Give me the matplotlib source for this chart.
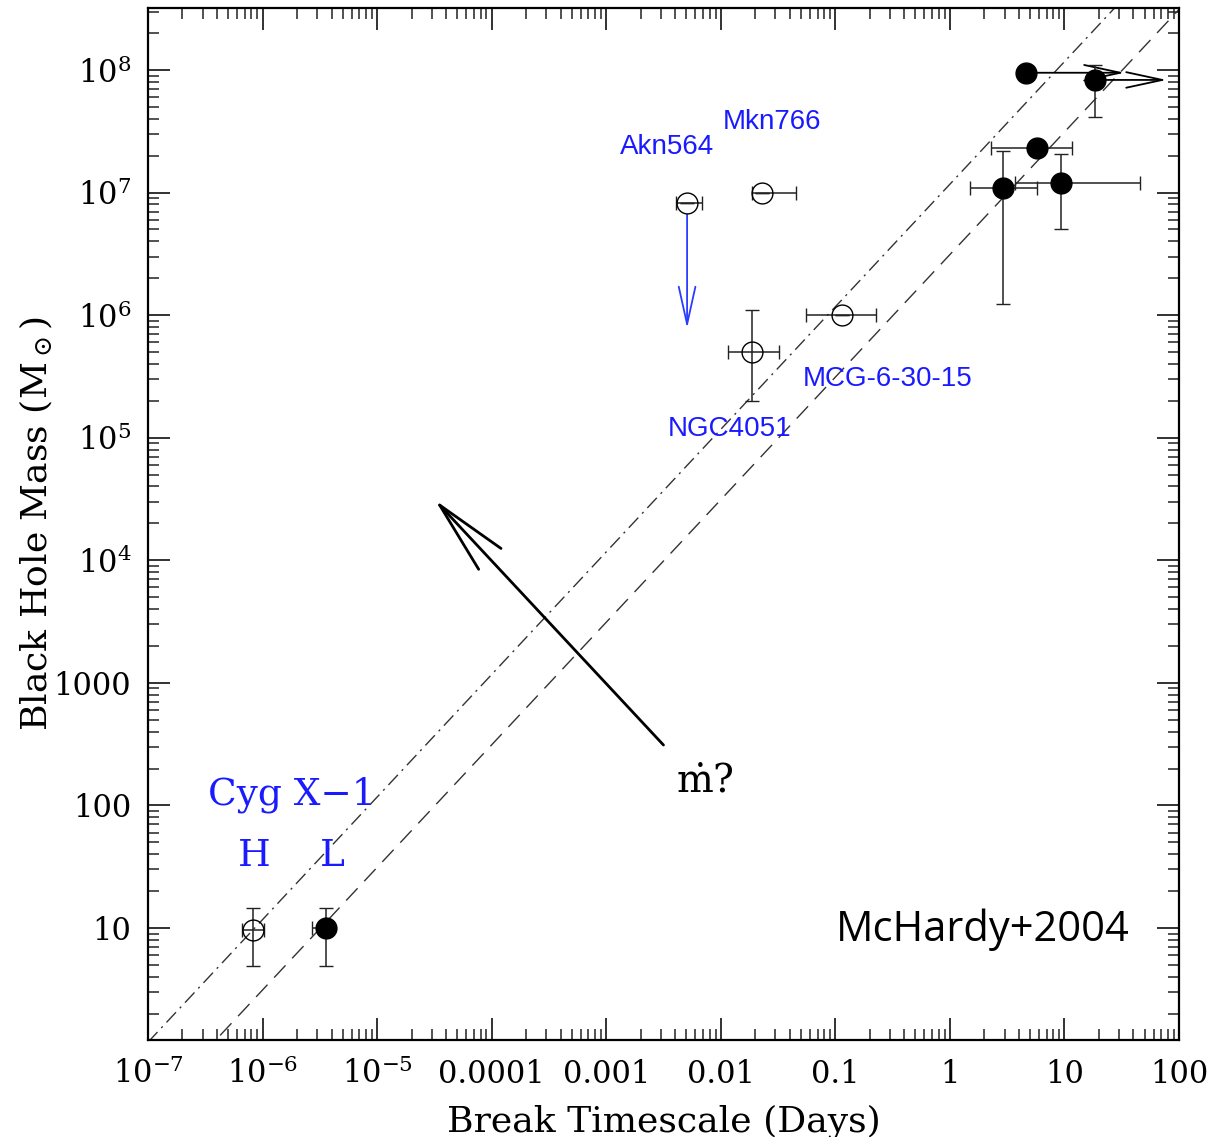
import numpy as np
import matplotlib
matplotlib.use("Agg")
import matplotlib.pyplot as plt
from matplotlib.ticker import FixedLocator, LogLocator, NullFormatter

plt.rcParams['font.family'] = ['DejaVu Serif']
plt.rcParams['mathtext.fontset'] = 'dejavuserif'

# filled symbols (AGN + Cyg X-1 low state)
f_T = [4.65, 18.3, 5.8, 2.9, 9.27, 3.56e-6]
f_M = [9.5e7, 8.3e7, 2.32e7, 1.1e7, 1.2e7, 10]
f_T_lo = [4.65, 18.3, 2.3, 1.49, 3.67, 2.7e-6]
f_T_hi = [4.65, 18.3, 11.6, 5.75, 46, 3.56e-6]
f_M_lo = [9.5e7, 4.1e7, 2.32e7, 1.23e6, 5.05e6, 4.9]
f_M_hi = [9.5e7, 1.1e8, 2.32e7, 2.18e7, 2.05e7, 14.6]

# open symbols: Akn564, Mkn766, MCG-6-30-15, NGC4051, Cyg X-1 high state
o_T = [5.08e-3, 0.0231, 0.1153, 0.0189, 8.3e-7]
o_M = [8.2e6, 1.0e7, 1.0e6, 5.0e5, 9.6]
o_T_lo = [4.05e-3, 0.0189, 0.056, 0.01145, 6.6e-7]
o_T_hi = [6.8e-3, 0.045, 0.2255, 0.032, 1.03e-6]
o_M_lo = [8.2e6, 1.0e7, 1.0e6, 2.0e5, 4.9]
o_M_hi = [8.2e6, 1.0e7, 1.0e6, 1.1e6, 14.6]

# lower limits on break timescale (arrows to the right)
lim_T = [4.65, 18.3]
lim_M = [9.5e7, 8.3e7]
lim_T_end = [33.5, 78]

# Akn564 mass upper limit arrow
akn_T = 5.08e-3
akn_M = [6.6e6, 7.8e5]

# scaling relations M ~ T
line_T = [1e-7, 100]
dashdot_M = [1.17, 1.17e9]
dashed_M = [0.312, 3.12e8]

# mdot arrow
mdot_tail = (3.16e-3, 311)
mdot_head = (3.2e-5, 3.1e4)
mdot_pos = (7.2e-3, 155)

labels_blue = ["Akn564", "Mkn766", "MCG-6-30-15", "NGC4051"]
labels_T = [3.38e-3, 0.0279, 0.286, 0.012]
labels_M = [2.36e7, 3.77e7, 3.0e5, 1.18e5]

x_ticks = [1e-7, 1e-6, 1e-5, 1e-4, 1e-3, 1e-2, 0.1, 1, 10, 100]
x_ticklabels = [r"$10^{-7}$", r"$10^{-6}$", r"$10^{-5}$", "0.0001", "0.001",
                "0.01", "0.1", "1", "10", "100"]
y_ticks = [10, 100, 1000, 1e4, 1e5, 1e6, 1e7, 1e8]
y_ticklabels = ["10", "100", "1000", r"$10^{4}$", r"$10^{5}$", r"$10^{6}$",
                r"$10^{7}$", r"$10^{8}$"]

fig = plt.figure(figsize=(12.26, 11.37), dpi=100)
ax = fig.add_axes([148 / 1226, 1 - 1040 / 1137, 1031 / 1226, 1032 / 1137])
ax.set_xscale('log')
ax.set_yscale('log')
ax.set_xlim(1e-7, 100)
ax.set_ylim(10 ** 0.086, 10 ** 8.506)

ax.plot(line_T, dashdot_M, color='#333333', lw=1.0, ls=(0, (10, 4, 1.5, 4)))
ax.plot(line_T, dashed_M, color='#333333', lw=1.0, ls=(0, (12, 7)))

ebkw = dict(fmt='o', ecolor='#222222', elinewidth=1.1, capsize=5, capthick=1.1,
            ms=15, mec='black', mew=1.0)
f_T_a = np.array(f_T); f_M_a = np.array(f_M)
ax.errorbar(f_T_a, f_M_a,
            xerr=[f_T_a - np.array(f_T_lo), np.array(f_T_hi) - f_T_a],
            yerr=[f_M_a - np.array(f_M_lo), np.array(f_M_hi) - f_M_a],
            mfc='black', zorder=3, **ebkw)
o_T_a = np.array(o_T); o_M_a = np.array(o_M)
ax.errorbar(o_T_a, o_M_a,
            xerr=[o_T_a - np.array(o_T_lo), np.array(o_T_hi) - o_T_a],
            yerr=[o_M_a - np.array(o_M_lo), np.array(o_M_hi) - o_M_a],
            mfc='none', zorder=3, **ebkw)

for t0, m0, t1 in zip(lim_T, lim_M, lim_T_end):
    ax.annotate("", xy=(t1, m0), xytext=(t0, m0),
                arrowprops=dict(arrowstyle="->,head_length=1.3,head_width=0.28",
                                color='black', lw=1.3, mutation_scale=20,
                                shrinkA=0, shrinkB=0), zorder=2)

ax.annotate("", xy=(akn_T, akn_M[1]), xytext=(akn_T, akn_M[0]),
            arrowprops=dict(arrowstyle="->,head_length=1.35,head_width=0.3",
                            color='#2b3cff', lw=1.3, mutation_scale=20,
                            shrinkA=0, shrinkB=0))

ax.annotate("", xy=mdot_head, xytext=mdot_tail,
            arrowprops=dict(arrowstyle="->,head_length=2.65,head_width=0.55",
                            color='black', lw=2.0, mutation_scale=20,
                            shrinkA=0, shrinkB=0))
ax.text(mdot_pos[0], mdot_pos[1], r"$\dot{\mathrm{m}}$?", fontsize=28,
        ha='center', va='center')

for lab, tx, my in zip(labels_blue, labels_T, labels_M):
    ax.text(tx, my, lab, color='#1a1aff', fontsize=20, family='Liberation Sans',
            ha='center', va='center')

ax.text(1.81e-6, 121.6, "Cyg X\u22121", color='#1a1aff', fontsize=27,
        ha='center', va='center')
ax.text(8.5e-7, 38.7, "H", color='#1a1aff', fontsize=27, ha='center', va='center')
ax.text(4.04e-6, 38.7, "L", color='#1a1aff', fontsize=27, ha='center', va='center')

ax.text(1.93, 9.6, "McHardy+2004", fontsize=30, family='Open Sans',
        ha='center', va='center')

# ticks
ax.xaxis.set_major_locator(FixedLocator(x_ticks))
ax.set_xticklabels(x_ticklabels)
ax.yaxis.set_major_locator(FixedLocator(y_ticks))
ax.set_yticklabels(y_ticklabels)
ax.xaxis.set_minor_locator(LogLocator(base=10, subs=np.arange(2, 10), numticks=30))
ax.yaxis.set_minor_locator(LogLocator(base=10, subs=np.arange(2, 10), numticks=30))
ax.xaxis.set_minor_formatter(NullFormatter())
ax.yaxis.set_minor_formatter(NullFormatter())
ax.tick_params(which='both', direction='in', top=True, right=True, labelsize=22,
               color='#222222')
ax.tick_params(which='major', length=16, width=1.3)
ax.tick_params(which='minor', length=8, width=1.1)
ax.tick_params(axis='x', which='major', pad=31)
ax.tick_params(axis='y', which='major', pad=12)
for tk in ax.xaxis.get_major_ticks():
    tk.label1.set_verticalalignment('baseline')
for sp in ax.spines.values():
    sp.set_linewidth(1.6)

ax.set_xlabel("Break Timescale (Days)", fontsize=26)
ax.xaxis.set_label_coords(0.5, -0.062)
ax.set_ylabel(r"Black Hole Mass (M$_\odot$)", fontsize=26)
ax.yaxis.set_label_coords(-0.09, 0.5)

fig.savefig("out.png", dpi=100)
